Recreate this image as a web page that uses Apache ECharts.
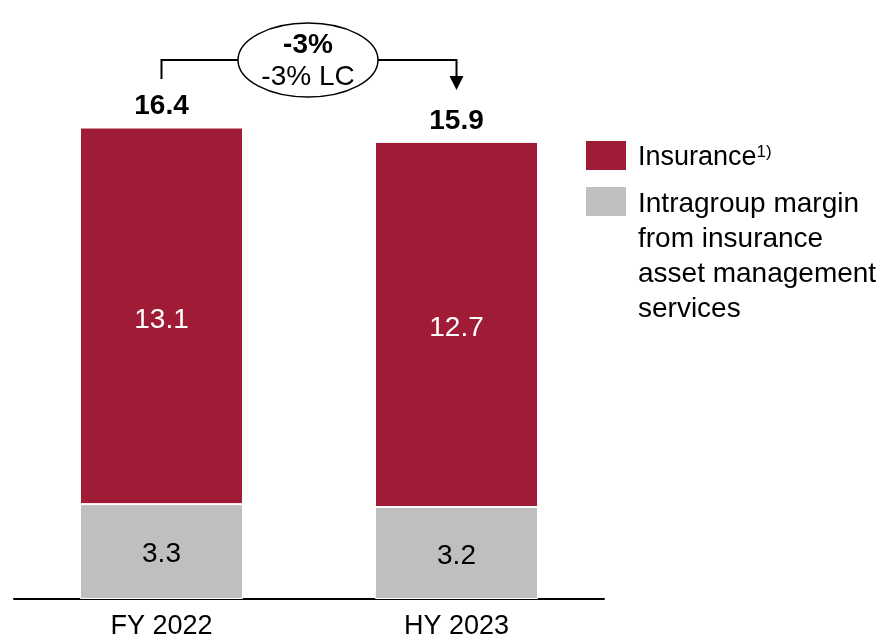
<!DOCTYPE html>
<html>
<head>
<meta charset="utf-8">
<script src="https://cdn.jsdelivr.net/npm/echarts@6/dist/echarts.min.js"></script>
<style>html,body{margin:0;padding:0;background:#fff}#c{width:893px;height:640px}</style>
</head>
<body>
<div id="c"></div>
<script>
var categories = ['FY 2022', 'HY 2023'];
var intragroup = [3.3, 3.2];
var insurance = [13.1, 12.7];
var totals = [16.4, 15.9];
var changeMain = '-3%';
var changeLC = '-3% LC';
var seriesNames = ['Insurance', 'Intragroup margin\nfrom insurance\nasset management\nservices'];

var RED = '#A01C36', GRAY = '#BFBFBF';
var FONT = 'Liberation Sans';

var chart = echarts.init(document.getElementById('c'));
chart.setOption({
  animation: false,
  textStyle: { fontFamily: FONT },
  grid: { left: 14, width: 590, top: 24, bottom: 40 },
  xAxis: {
    type: 'category', data: categories,
    axisLine: { lineStyle: { color: '#000', width: 2 } },
    axisTick: { show: false },
    axisLabel: { color: '#000', fontSize: 27, margin: 14, fontFamily: FONT }
  },
  yAxis: { type: 'value', min: 0, max: 20, show: false, splitLine: { show: false } },
  series: [
    {
      name: 'Intragroup', type: 'bar', stack: 's', data: intragroup, barWidth: 163,
      itemStyle: { color: GRAY, borderColor: '#fff', borderWidth: 1 },
      label: { show: true, position: 'inside', offset: [0, 3], color: '#000', fontSize: 28, fontFamily: FONT }
    },
    {
      name: 'Insurance', type: 'bar', stack: 's', data: insurance, barWidth: 163,
      itemStyle: { color: RED, borderColor: '#fff', borderWidth: 1 },
      label: { show: true, position: 'inside', offset: [0, 4], color: '#fff', fontSize: 28, fontFamily: FONT }
    },
    {
      name: 'Total', type: 'scatter', data: totals, symbolSize: 0, silent: true,
      itemStyle: { opacity: 1 },
      label: { show: true, position: 'top', distance: 7, color: '#000', fontSize: 28, fontWeight: 'bold', fontFamily: FONT }
    }
  ]
});

var p0 = chart.convertToPixel({ seriesIndex: 0 }, [0, 0]);
var p1 = chart.convertToPixel({ seriesIndex: 0 }, [1, 0]);
var x0 = p0[0], x1 = p1[0];
var lineY = 60, cx = 308, rx = 70, ry = 37;
var ls = { stroke: '#000', lineWidth: 2 };

chart.setOption({
  graphic: [
    { type: 'polyline', shape: { points: [[x0, 79], [x0, lineY], [cx - rx, lineY]] }, style: ls },
    { type: 'polyline', shape: { points: [[cx + rx, lineY], [x1, lineY], [x1, 78]] }, style: ls },
    { type: 'polygon', shape: { points: [[x1 - 7, 76], [x1 + 7, 76], [x1, 90]] }, style: { fill: '#000' } },
    { type: 'ellipse', shape: { cx: cx, cy: lineY, rx: rx, ry: ry }, style: { fill: '#fff', stroke: '#000', lineWidth: 1.5 } },
    { type: 'text', x: cx, y: 45, style: { text: changeMain, fill: '#000', font: 'bold 28px "Liberation Sans"', align: 'center', verticalAlign: 'middle' } },
    { type: 'text', x: cx, y: 77, style: { text: changeLC, fill: '#000', font: '28px "Liberation Sans"', align: 'center', verticalAlign: 'middle' } },
    { type: 'rect', shape: { x: 586, y: 141, width: 40, height: 29 }, style: { fill: RED } },
    { type: 'rect', shape: { x: 586, y: 187, width: 40, height: 29 }, style: { fill: GRAY } },
    { type: 'text', x: 638, y: 158, style: {
        text: '{a|' + seriesNames[0] + '}{s|1)}',
        rich: { a: { fontSize: 27, fontFamily: FONT, color: '#000' }, s: { fontSize: 17, fontFamily: FONT, color: '#000', verticalAlign: 'top', padding: [0, 0, 12, 0] } },
        verticalAlign: 'middle', align: 'left' } },
    { type: 'text', x: 638, y: 187, style: {
        text: seriesNames[1], fill: '#000', font: '28px "Liberation Sans"', lineHeight: 35, align: 'left', verticalAlign: 'top' } }
  ]
});
</script>
</body>
</html>
